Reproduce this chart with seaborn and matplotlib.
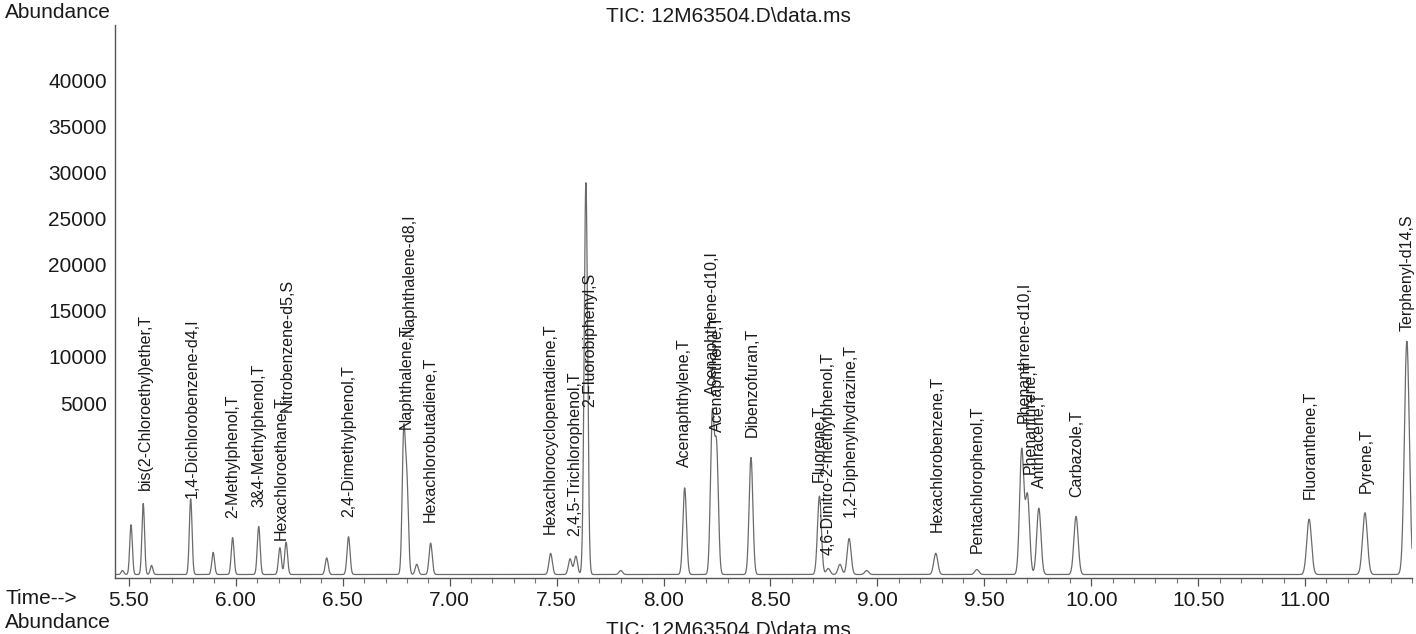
import numpy as np
import pandas as pd
import matplotlib
matplotlib.use("Agg")
import matplotlib.pyplot as plt
from matplotlib.ticker import MultipleLocator
import seaborn as sns

# ---------------- data ----------------
RET_TIMES = [5.470, 5.510, 5.567, 5.606, 5.789, 5.894, 5.985, 6.107, 6.206, 6.235,
             6.425, 6.527, 6.785, 6.800, 6.846, 6.911, 7.472, 7.563, 7.590, 7.637,
             7.800, 8.099, 8.228, 8.248, 8.409, 8.729, 8.770, 8.825, 8.868, 8.950,
             9.273, 9.465, 9.675, 9.702, 9.755, 9.929, 11.019, 11.280, 11.476]
PEAK_HEIGHTS = [430, 5400, 7700, 980, 8200, 2400, 4000, 5200, 2900, 3500,
                1800, 4100, 15000, 9500, 1100, 3400, 2300, 1700, 2000, 42500,
                430, 9400, 17000, 13500, 12700, 8500, 650, 1100, 3900, 430,
                2300, 540, 13500, 8500, 7200, 6300, 6000, 6700, 25300]
PEAK_NAMES = ["", "", "bis(2-Chloroethyl)ether,T", "", "1,4-Dichlorobenzene-d4,I",
              "", "2-Methylphenol,T", "3&4-Methylphenol,T", "Hexachloroethane,T",
              "Nitrobenzene-d5,S", "", "2,4-Dimethylphenol,T", "Naphthalene-d8,I",
              "Naphthalene,T", "", "Hexachlorobutadiene,T", "Hexachlorocyclopentadiene,T",
              "", "2,4,5-Trichlorophenol,T", "2-Fluorobiphenyl,S", "", "Acenaphthylene,T",
              "Acenaphthene-d10,I", "Acenaphthene,T", "Dibenzofuran,T", "Fluorene,T",
              "4,6-Dinitro-2-methylphenol,T", "", "1,2-Diphenylhydrazine,T", "",
              "Hexachlorobenzene,T", "Pentachlorophenol,T", "Phenanthrene-d10,I",
              "Phenanthrene,T", "Anthracene,T", "Carbazole,T", "Fluoranthene,T",
              "Pyrene,T", "Terphenyl-d14,S"]
BASELINE = -13600
Y_TICKS = [5000, 10000, 15000, 20000, 25000, 30000, 35000, 40000]
X_TICKS = [5.50, 6.00, 6.50, 7.00, 7.50, 8.00, 8.50, 9.00, 9.50, 10.00, 10.50, 11.00]
TITLE = "TIC: 12M63504.D\\data.ms"

# ---------------- layout (label placement, pixels) ----------------
LABEL_LIFT_PX = [0, 0, 14, 0, 1, 0, 20, 20, 8, 130, 0, 20, 100, 58, 0, 21, 19, 0, 20, -224,
                 0, 21, 23, 18, 20, 14, 14, 0, 22, 0, 21, 17, 27, 22, 20, 19, 20, 20, 10]
LABEL_DX_PX = [0, 0, 2, 0, 2, 0, 0, 0, 1, 1, 0, 0, 6, -1, 0, 0, 0, 0, -1, 4,
               0, 0, 0, 1, 1, 0, 0, 0, 1, 0, 1, 0, 3, 3, 1, 1, 1, 1, 0]

# ---------------- build trace ----------------
t = np.linspace(5.435, 11.50, 8000)
y = np.full_like(t, BASELINE, dtype=float)
for rt, h in zip(RET_TIMES, PEAK_HEIGHTS):
    sig = 0.006 + 0.0009 * (rt - 5.4)
    y += h * np.exp(-0.5 * ((t - rt) / sig) ** 2)
df = pd.DataFrame({"time": t, "abundance": y})

sns.set_theme(style="white")
plt.rcParams["font.family"] = ["Liberation Sans", "DejaVu Sans"]

fig = plt.figure(figsize=(14.16, 6.34), dpi=100)
ax = fig.add_axes([115 / 1416, 1 - 578 / 634, (1412 - 115) / 1416, (578 - 25) / 634])

sns.lineplot(data=df, x="time", y="abundance", ax=ax, color="#6b6b6b",
             linewidth=0.9, estimator=None, sort=False)

ax.set_xlim(5.435, 11.50)
ax.set_ylim(-13980, 46000)
ax.set_xlabel("")
ax.set_ylabel("")
ax.set_xticks(X_TICKS)
ax.set_xticklabels([f"{v:.2f}" for v in X_TICKS])
ax.xaxis.set_minor_locator(MultipleLocator(0.1))
ax.set_yticks(Y_TICKS)
ax.set_yticklabels([str(v) for v in Y_TICKS])
for s in ["top", "right"]:
    ax.spines[s].set_visible(False)
for s in ["left", "bottom"]:
    ax.spines[s].set_color("#555555")
    ax.spines[s].set_linewidth(1.0)
ax.tick_params(axis="x", which="major", direction="out", length=6, width=0.9,
               color="#555555", labelsize=15, pad=3, labelcolor="#1a1a1a", bottom=True)
ax.tick_params(axis="x", which="minor", direction="out", length=3.5, width=0.8,
               color="#777777", bottom=True)
ax.tick_params(axis="y", which="major", length=0, labelsize=15, pad=6, labelcolor="#1a1a1a")

for i, name in enumerate(PEAK_NAMES):
    if not name:
        continue
    ax.annotate(name, xy=(RET_TIMES[i], BASELINE + PEAK_HEIGHTS[i]),
                xytext=(LABEL_DX_PX[i], LABEL_LIFT_PX[i]), textcoords="offset pixels",
                rotation=90, ha="center", va="bottom", fontsize=11.5, color="#1a1a1a",
                annotation_clip=False)

fig.text(5 / 1416, 1 - 12 / 634, "Abundance", fontsize=15, va="center", ha="left", color="#1a1a1a")
fig.text(728 / 1416, 1 - 16 / 634, TITLE, fontsize=15, va="center", ha="center", color="#1a1a1a")
fig.text(5 / 1416, 1 - 598 / 634, "Time-->", fontsize=15, va="center", ha="left", color="#1a1a1a")
fig.text(5 / 1416, 1 - 622 / 634, "Abundance", fontsize=15, va="center", ha="left", color="#1a1a1a")
fig.text(728 / 1416, 1 - 630 / 634, TITLE, fontsize=15, va="center", ha="center", color="#1a1a1a")

fig.savefig("out.png", dpi=100, facecolor="white")
